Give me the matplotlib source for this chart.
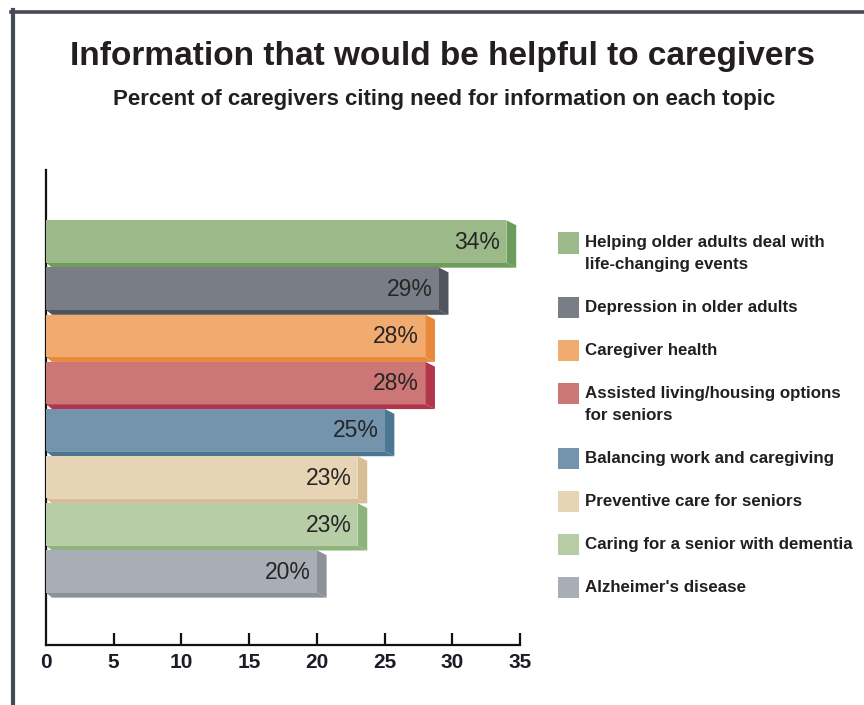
import matplotlib
matplotlib.use("Agg")
import matplotlib.pyplot as plt
from matplotlib.patches import Polygon, Rectangle
from matplotlib.lines import Line2D

plt.rcParams['font.family'] = ['Liberation Sans', 'DejaVu Sans']

categories = [
    "Helping older adults deal with\nlife-changing events",
    "Depression in older adults",
    "Caregiver health",
    "Assisted living/housing options\nfor seniors",
    "Balancing work and caregiving",
    "Preventive care for seniors",
    "Caring for a senior with dementia",
    "Alzheimer's disease",
]
values = [34, 29, 28, 28, 25, 23, 23, 20]
value_labels = ["34%", "29%", "28%", "28%", "25%", "23%", "23%", "20%"]
front_colors = ["#9cb98a", "#797d86", "#f2ab6e", "#cc7676", "#7394ac", "#e7d4b4", "#b6cda6", "#a9adb5"]
dark_colors = ["#6e9c5c", "#50545d", "#e9893c", "#b2354c", "#4b7792", "#d6bd95", "#8db47a", "#8d9199"]
xticks = [5, 10, 15, 20, 25, 30, 35]
xtick_labels = ["0", "5", "10", "15", "20", "25", "30", "35"]

W, H = 864, 705
fig = plt.figure(figsize=(W / 100, H / 100), dpi=100)

# frame lines
fig.add_artist(Line2D([11 / W, 1.0], [1 - 11.5 / H, 1 - 11.5 / H], color="#454a53", lw=2.6))
fig.add_artist(Line2D([13 / W, 13 / W], [1 - 10 / H, 0.0], color="#454a53", lw=3.0))

ax = fig.add_axes([46 / W, 1 - 645 / H, 474 / W, 475 / H])
ax.set_xlim(0, 35)
ax.set_ylim(8.56, -1.517)

h = 0.9
dy = 0.105
dx = 0.72
for i, (v, fc, dc, lab) in enumerate(zip(values, front_colors, dark_colors, value_labels)):
    top = i - h / 2
    bot = i + h / 2
    # bottom face
    ax.add_patch(Polygon([(0, bot), (v, bot), (v + dx, bot + dy), (0.45, bot + dy)],
                         closed=True, facecolor=dc, edgecolor="none", zorder=2))
    # side face
    ax.add_patch(Polygon([(v, top), (v + dx, top + dy), (v + dx, bot + dy), (v, bot)],
                         closed=True, facecolor=dc, edgecolor="none", zorder=2))
    # front face
    ax.add_patch(Rectangle((0, top), v, h, facecolor=fc, edgecolor="none", zorder=3))
    ax.text(v - 0.45, i + 0.02, lab, ha="right", va="center", fontsize=16.5,
            color="#262626", zorder=4)

for s in ["top", "right"]:
    ax.spines[s].set_visible(False)
for s in ["left", "bottom"]:
    ax.spines[s].set_linewidth(1.6)
    ax.spines[s].set_color("#111111")
ax.set_yticks([])
ax.set_xticks([0] + xticks)
ax.set_xticklabels(xtick_labels, fontweight="bold")
ax.tick_params(axis="x", direction="in", length=9, width=1.6, color="#111111",
               labelsize=15, labelcolor="#1c1c28", pad=6)
ax.xaxis.get_major_ticks()[0].tick1line.set_visible(False)

# titles
fig.text(443 / W, 1 - 57 / H, "Information that would be helpful to caregivers",
         ha="center", va="center", fontsize=24, fontweight="bold", color="#231f20")
fig.text(444 / W, 1 - 100 / H, "Percent of caregivers citing need for information on each topic",
         ha="center", va="center", fontsize=16, fontweight="bold", color="#231f20")

# legend
y = 243
for cat, fc in zip(categories, front_colors):
    lines = cat.split("\n")
    fig.add_artist(Rectangle((558 / W, 1 - (y + 10.5) / H), 21 / W, 21 / H,
                             facecolor=fc, edgecolor="none", transform=fig.transFigure))
    for k, ln in enumerate(lines):
        fig.text(585 / W, 1 - (y + 22 * k) / H, ln, ha="left", va="center",
                 fontsize=12.2, fontweight="bold", color="#231f20")
    y += 43 + 21.5 * (len(lines) - 1)

fig.savefig("out.png", dpi=100)
